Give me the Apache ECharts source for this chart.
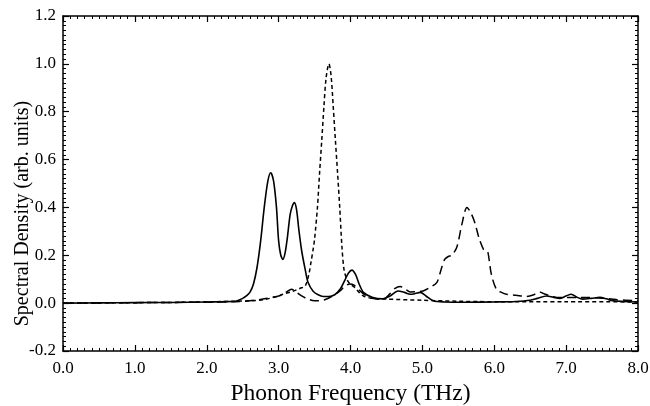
<!DOCTYPE html>
<html>
<head>
<meta charset="utf-8">
<script src="https://cdn.jsdelivr.net/npm/echarts@6/dist/echarts.min.js"></script>
<style>html,body{margin:0;padding:0;background:#fff}#chart{width:650px;height:406px}</style>
</head>
<body>
<div id="chart"></div>
<script>
// Solid line
var solidFreq = [0.0, 0.5, 1.0, 1.5, 2.0, 2.2, 2.4, 2.5, 2.55, 2.6, 2.65, 2.7, 2.75, 2.8, 2.85, 2.89, 2.93, 2.97, 3.0, 3.03, 3.06, 3.09, 3.12, 3.16, 3.19, 3.22, 3.25, 3.28, 3.32, 3.37, 3.41, 3.48, 3.55, 3.62, 3.7, 3.78, 3.86, 3.92, 3.97, 4.02, 4.07, 4.12, 4.18, 4.3, 4.45, 4.55, 4.66, 4.75, 4.83, 4.9, 4.97, 5.05, 5.15, 5.3, 5.6, 6.0, 6.3, 6.5, 6.6, 6.73, 6.82, 6.91, 7.0, 7.07, 7.15, 7.23, 7.35, 7.47, 7.56, 7.65, 7.8, 8.0];
var solidDensity = [0.0, 0.001, 0.002, 0.003, 0.005, 0.006, 0.008, 0.02, 0.03, 0.045, 0.08, 0.15, 0.26, 0.40, 0.51, 0.545, 0.51, 0.40, 0.26, 0.20, 0.183, 0.21, 0.27, 0.37, 0.405, 0.42, 0.39, 0.31, 0.22, 0.14, 0.086, 0.05, 0.035, 0.028, 0.028, 0.035, 0.06, 0.095, 0.125, 0.138, 0.12, 0.08, 0.045, 0.025, 0.018, 0.03, 0.051, 0.045, 0.037, 0.04, 0.045, 0.03, 0.01, 0.005, 0.004, 0.005, 0.007, 0.012, 0.02, 0.03, 0.025, 0.02, 0.03, 0.037, 0.025, 0.017, 0.02, 0.024, 0.018, 0.01, 0.007, 0.005];

// Short-dashed line
var shortFreq = [0.0, 0.5, 1.0, 1.5, 2.0, 2.4, 2.6, 2.8, 3.0, 3.06, 3.2, 3.3, 3.37, 3.42, 3.45, 3.48, 3.5, 3.54, 3.57, 3.6, 3.63, 3.66, 3.7, 3.73, 3.76, 3.79, 3.82, 3.85, 3.88, 3.91, 3.95, 4.0, 4.05, 4.12, 4.18, 4.3, 4.5, 5.0, 5.5, 6.0, 7.0, 8.0];
var shortDensity = [0.0, 0.001, 0.002, 0.003, 0.005, 0.008, 0.01, 0.015, 0.03, 0.037, 0.05, 0.062, 0.072, 0.12, 0.17, 0.225, 0.267, 0.40, 0.545, 0.68, 0.82, 0.94, 1.0, 0.95, 0.82, 0.68, 0.545, 0.40, 0.24, 0.14, 0.10, 0.078, 0.068, 0.045, 0.03, 0.02, 0.017, 0.012, 0.008, 0.006, 0.006, 0.005];

// Long-dashed line
var longFreq = [0.0, 0.5, 1.0, 1.5, 2.0, 2.4, 2.6, 2.8, 3.0, 3.1, 3.18, 3.25, 3.32, 3.4, 3.5, 3.57, 3.65, 3.75, 3.85, 3.92, 3.99, 4.05, 4.12, 4.2, 4.3, 4.45, 4.55, 4.62, 4.69, 4.76, 4.83, 4.92, 5.01, 5.1, 5.2, 5.26, 5.31, 5.36, 5.41, 5.48, 5.55, 5.62, 5.67, 5.73, 5.79, 5.85, 5.88, 5.91, 5.96, 6.03, 6.1, 6.17, 6.3, 6.45, 6.55, 6.63, 6.7, 6.77, 6.87, 7.0, 7.19, 7.47, 7.7, 8.0];
var longDensity = [0.0, 0.001, 0.002, 0.003, 0.004, 0.006, 0.01, 0.018, 0.03, 0.045, 0.058, 0.045, 0.03, 0.018, 0.01, 0.01, 0.015, 0.03, 0.05, 0.07, 0.08, 0.075, 0.055, 0.035, 0.02, 0.016, 0.04, 0.062, 0.07, 0.06, 0.047, 0.048, 0.051, 0.065, 0.086, 0.14, 0.183, 0.195, 0.20, 0.235, 0.33, 0.40, 0.38, 0.336, 0.27, 0.225, 0.22, 0.215, 0.12, 0.058, 0.045, 0.037, 0.033, 0.028, 0.035, 0.047, 0.038, 0.032, 0.024, 0.024, 0.024, 0.022, 0.015, 0.01];

var xTickLabels = ['0.0', '1.0', '2.0', '3.0', '4.0', '5.0', '6.0', '7.0', '8.0'];
var yTickLabels = ['-0.2', '0.0', '0.2', '0.4', '0.6', '0.8', '1.0', '1.2'];
var xTitle = 'Phonon Frequency (THz)';
var yTitle = 'Spectral Density (arb. units)';

function pairs(xs, ys) { return xs.map(function (x, i) { return [x, ys[i]]; }); }

var FONT = '"Liberation Serif", "DejaVu Serif", serif';
var axisLineStyle = { color: '#000', width: 1.5 };

function xAxisCfg(pos, showLabels) {
  return {
    type: 'value', position: pos, min: 0, max: 8, interval: 1,
    axisLine: { show: true, onZero: false, lineStyle: axisLineStyle },
    axisTick: { show: true, inside: true, length: 6, lineStyle: { color: '#000', width: 1.2 } },
    minorTick: { show: true, splitNumber: 10, length: 3, lineStyle: { color: '#000', width: 1 } },
    splitLine: { show: false },
    axisLabel: {
      show: showLabels, margin: 9, color: '#000', fontFamily: FONT, fontSize: 17,
      formatter: function (v) { return xTickLabels[Math.round(v)]; }
    },
    name: showLabels ? xTitle : '', nameLocation: 'middle', nameGap: 31, nameMoveOverlap: false,
    nameTextStyle: { color: '#000', fontFamily: FONT, fontSize: 23.5 }
  };
}
function yAxisCfg(pos, showLabels) {
  return {
    type: 'value', position: pos, min: -0.2, max: 1.2, interval: 0.2,
    axisLine: { show: true, onZero: false, lineStyle: axisLineStyle },
    axisTick: { show: true, inside: true, length: 6, lineStyle: { color: '#000', width: 1.2 } },
    minorTick: { show: true, splitNumber: 10, length: 3, lineStyle: { color: '#000', width: 1 } },
    splitLine: { show: false },
    axisLabel: {
      show: showLabels, margin: 7, color: '#000', fontFamily: FONT, fontSize: 17,
      formatter: function (v) { return yTickLabels[Math.round((v + 0.2) / 0.2)]; }
    },
    name: showLabels ? yTitle : '', nameLocation: 'middle', nameGap: 30, nameMoveOverlap: false,
    nameTextStyle: { color: '#000', fontFamily: FONT, fontSize: 20, padding: [0, 60, 0, 0] }
  };
}

var chart = echarts.init(document.getElementById('chart'), null, { renderer: 'canvas' });
chart.setOption({
  animation: false,
  backgroundColor: '#fff',
  grid: { left: 63, right: 12, top: 16, bottom: 55, containLabel: false, outerBoundsMode: 'none' },
  xAxis: [xAxisCfg('bottom', true), xAxisCfg('top', false)],
  yAxis: [yAxisCfg('left', true), yAxisCfg('right', false)],
  series: [
    { type: 'line', data: pairs(solidFreq, solidDensity), showSymbol: false, smooth: 0.3,
      lineStyle: { color: '#000', width: 1.6, type: 'solid' } },
    { type: 'line', data: pairs(shortFreq, shortDensity), showSymbol: false, smooth: 0.3,
      lineStyle: { color: '#000', width: 1.5, type: [4, 3] } },
    { type: 'line', data: pairs(longFreq, longDensity), showSymbol: false, smooth: 0.3,
      lineStyle: { color: '#000', width: 1.5, type: [9, 5] } }
  ]
});
</script>
</body>
</html>
